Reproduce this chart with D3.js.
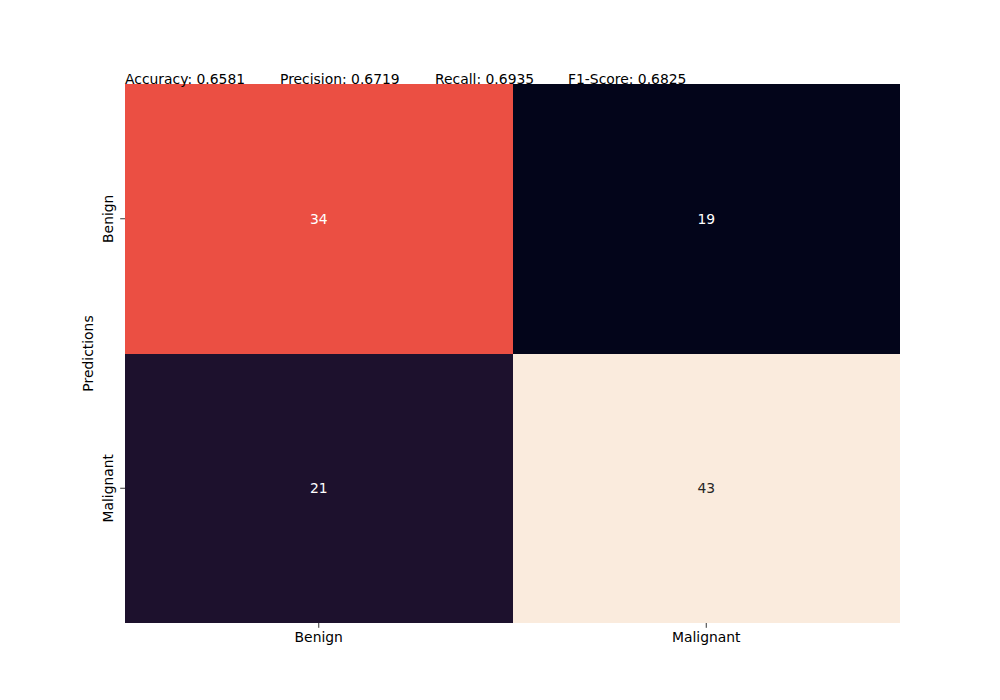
<!DOCTYPE html>
<html>
<head>
<meta charset="utf-8">
<script src="https://cdn.jsdelivr.net/npm/d3@7"></script>
<style>
  body { margin: 0; background: #fff; }
  text { font-family: "DejaVu Sans", sans-serif; }
</style>
</head>
<body>
<div id="chart"></div>
<script>
// labels and counts
var labels = ["Benign", "Malignant"];
var rowLabels = ["Benign", "Benign", "Malignant", "Malignant"];
var colLabels = ["Benign", "Malignant", "Benign", "Malignant"];
var counts = [34, 19, 21, 43];
var metricNames = ["Accuracy", "Precision", "Recall", "F1-Score"];
var metricValues = [0.6581, 0.6719, 0.6935, 0.6825];

var svgWidth = 1000;
var svgHeight = 700;
var margin = { top: 84, right: 100, bottom: 77, left: 125 };
var chartWidth = svgWidth - margin.left - margin.right;
var chartHeight = svgHeight - margin.top - margin.bottom;

var svg = d3.select("#chart")
    .append("svg")
    .attr("width", svgWidth)
    .attr("height", svgHeight);

var chart = svg.append("g").attr("transform", `translate(${margin.left},${margin.top})`);

var cells = counts.map(function(v, i) {
    return { row: rowLabels[i], col: colLabels[i], value: v };
});

var xScale = d3.scaleBand().domain(labels).range([0, chartWidth]);
var yScale = d3.scaleBand().domain(labels).range([0, chartHeight]);

// approx seaborn "rocket"
var rocketStops = ["#03051a", "#221331", "#451c47", "#6a1f56", "#921c5b", "#b91657", "#e94440", "#f2704a", "#f5996f", "#f6bc9d", "#faebdd"];
var rocket = d3.scaleLinear()
    .domain(d3.range(rocketStops.length).map(function(i) { return i / (rocketStops.length - 1); }))
    .range(rocketStops)
    .interpolate(d3.interpolateRgb);
var colorScale = d3.scaleLinear()
    .domain(d3.extent(counts))
    .range([0, 1]);

chart.selectAll("rect")
    .data(cells)
    .enter()
    .append("rect")
    .attr("x", function(d) { return xScale(d.col); })
    .attr("y", function(d) { return yScale(d.row); })
    .attr("width", xScale.bandwidth())
    .attr("height", yScale.bandwidth())
    .attr("fill", function(d) { return rocket(colorScale(d.value)); })
    .attr("shape-rendering", "crispEdges");

chart.selectAll(".annot")
    .data(cells)
    .enter()
    .append("text")
    .attr("class", "annot")
    .attr("x", function(d) { return xScale(d.col) + xScale.bandwidth() / 2; })
    .attr("y", function(d) { return yScale(d.row) + yScale.bandwidth() / 2; })
    .attr("dy", "0.35em")
    .style("text-anchor", "middle")
    .style("font-size", "13.9px")
    .style("fill", function(d) { return colorScale(d.value) > 0.8 ? "#262626" : "#fff"; })
    .text(function(d) { return d.value; });

// axes
var bottomAxis = d3.axisBottom(xScale).tickSize(4.8).tickPadding(4.5);
var leftAxis = d3.axisLeft(yScale).tickSize(4.8).tickPadding(4.5);

var gx = chart.append("g")
    .attr("transform", `translate(0, ${chartHeight})`)
    .call(bottomAxis);
gx.select(".domain").remove();
gx.selectAll("text").style("font-size", "13.9px").style("font-family", "DejaVu Sans").attr("fill", "#000");
gx.selectAll("line").attr("stroke", "#000").attr("stroke-width", 0.8);

var gy = chart.append("g").call(leftAxis);
gy.select(".domain").remove();
gy.selectAll("line").attr("stroke", "#000").attr("stroke-width", 0.8);
gy.selectAll("text")
    .style("font-size", "13.9px")
    .style("font-family", "DejaVu Sans")
    .style("text-anchor", "middle")
    .attr("fill", "#000")
    .attr("x", 0)
    .attr("dy", 0)
    .attr("transform", "translate(-12.5,0) rotate(-90)");

chart.append("text")
    .attr("transform", "rotate(-90)")
    .attr("x", -chartHeight / 2)
    .attr("y", -32)
    .style("text-anchor", "middle")
    .style("font-size", "13.9px")
    .text("Predictions");

// metrics line at top
var metricX = [0, 155, 310, 443];
chart.selectAll(".metric")
    .data(metricNames)
    .enter()
    .append("text")
    .attr("class", "metric")
    .attr("x", function(d, i) { return metricX[i]; })
    .attr("y", 0)
    .style("font-size", "13.9px")
    .text(function(d, i) { return d + ": " + metricValues[i].toFixed(4); });
</script>
</body>
</html>
